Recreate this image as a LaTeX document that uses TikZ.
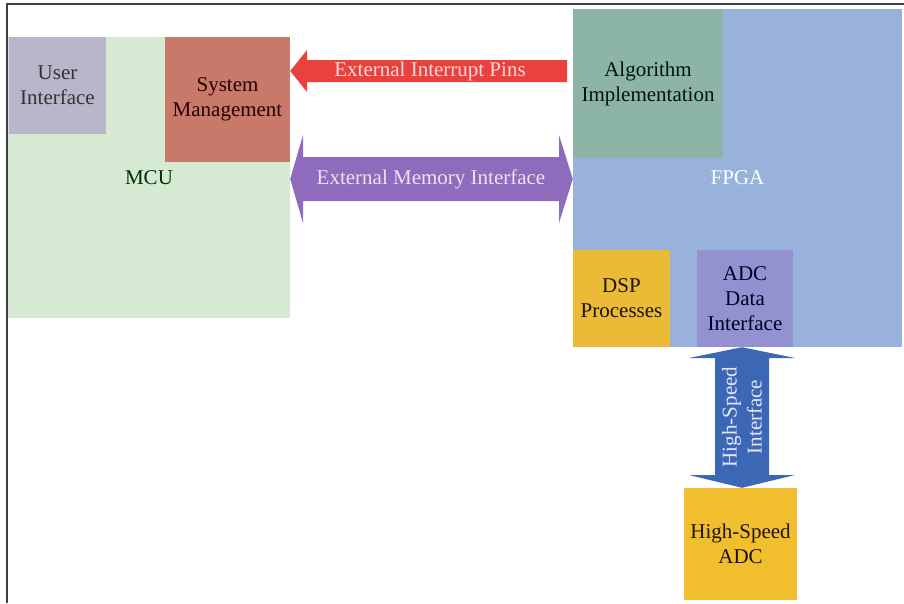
\documentclass[tikz,border=0pt]{standalone}
\usepackage{fontspec}
\setmainfont{Liberation Serif}
\definecolor{mcugreen}{HTML}{D6E9D2}
\definecolor{uigray}{HTML}{B9B5CA}
\definecolor{sysred}{HTML}{C8796A}
\definecolor{algteal}{HTML}{8DB5A6}
\definecolor{fpgablue}{HTML}{98B2DB}
\definecolor{dspyellow}{HTML}{EBBA37}
\definecolor{adcviolet}{HTML}{9391CF}
\definecolor{hsyellow}{HTML}{F1BE2E}
\definecolor{intred}{HTML}{E8413E}
\definecolor{mempurple}{HTML}{8F6BBE}
\definecolor{hsblue}{HTML}{3B67B5}
\begin{document}
\begin{tikzpicture}[x=1pt,y=-1pt,
    blk/.style={rectangle,inner sep=0pt,align=center,font=\fontsize{21}{25}\selectfont},
    lbl/.style={inner sep=0pt,align=center,font=\fontsize{21}{25}\selectfont}]
    \useasboundingbox (0,0) rectangle (904,603);
    \draw [line width=2pt,black!75] (6.5,603) -- (6.5,4) -- (904,4);
    % MCU side
    \node at (149,177.5) [blk,fill=mcugreen,minimum width=282pt,minimum height=281pt,text=black!70!green!60!black] (mcu) {MCU};
    \node at (57.5,85.5) [blk,fill=uigray,minimum width=97pt,minimum height=97pt,text=black!80] (ui) {User\\Interface};
    \node at (227.5,99.5) [blk,fill=sysred,minimum width=125pt,minimum height=125pt,text=black!85!red] (sys) {System\\Management};
    % FPGA side
    \node at (737.5,178) [blk,fill=fpgablue,minimum width=329pt,minimum height=338pt,text=white] (fpga) {FPGA};
    \node at (648,83.5) [blk,fill=algteal,minimum width=150pt,minimum height=149pt,text=black!85!teal] (alg) {Algorithm\\Implementation};
    \node at (621.5,298.5) [blk,fill=dspyellow,minimum width=97pt,minimum height=97pt,text=black!85!brown] (dsp) {DSP\\Processes};
    \node at (745,298.5) [blk,fill=adcviolet,minimum width=96pt,minimum height=97pt,text=black!85!blue] (adcif) {ADC\\Data\\Interface};
    \node at (740.5,544) [blk,fill=hsyellow,minimum width=113pt,minimum height=112pt,text=black!85!brown] (adc) {High-Speed\\ADC};
    % block arrows
    \fill [intred] (567,60) -- (307,60) -- (307,50) -- (sys.east |- 0,71) -- (307,92) -- (307,82) -- (567,82) -- cycle;
    \fill [mempurple] (303,157) -- (303,135) -- (mcu.east |- 0,179) -- (303,223) -- (303,201)
        -- (559,201) -- (559,223) -- (fpga.west |- 0,179) -- (559,135) -- (559,157) -- cycle;
    \fill [hsblue] (715,358) -- (689,358) -- (adcif.south -| 742,0) -- (795,358) -- (769,358)
        -- (769,475) -- (795,475) -- (adc.north -| 742,0) -- (689,475) -- (715,475) -- cycle;
    \node at (430,71) [lbl,text=red!15!white] (eip) {External Interrupt Pins};
    \node at (431,179) [lbl,text=violet!12!white] (emi) {External Memory Interface};
    \node at (742,417) [lbl,rotate=90,text=blue!10!white] (hsi) {High-Speed\\Interface};
\end{tikzpicture}
\end{document}
